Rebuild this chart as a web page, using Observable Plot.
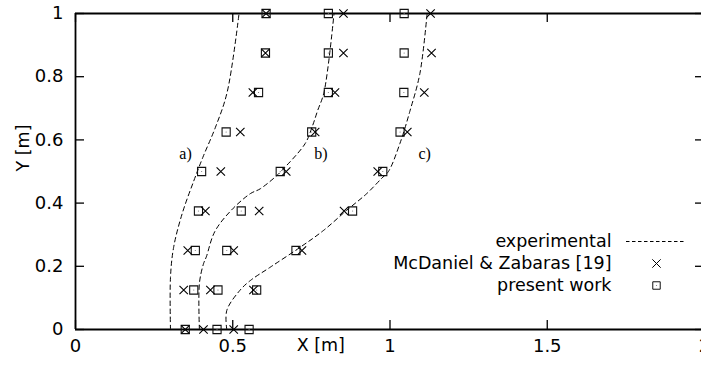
<!DOCTYPE html>
<html><head><meta charset="utf-8">
<script src="https://cdn.jsdelivr.net/npm/d3@7"></script>
<script src="https://cdn.jsdelivr.net/npm/@observablehq/plot@0.6"></script>
<style>
html,body{margin:0;padding:0;background:#fff;overflow:hidden;}
#chart{width:701px;height:367px;overflow:hidden;}
</style>
</head><body><div id="chart"></div>
<script>
// ---- data ----
const cases = ["a", "b", "c"];
const caseLabels = ["a)", "b)", "c)"];
const caseLabelX = [0.35, 0.78, 1.11];
const caseLabelY = [0.555, 0.557, 0.557];
const yLevels = [0, 0.125, 0.25, 0.375, 0.5, 0.625, 0.75, 0.875, 1];

// McDaniel & Zabaras [19] (x markers), x [m] at each yLevel
const mcdA = [0.349, 0.344, 0.357, 0.413, 0.462, 0.524, 0.564, 0.604, 0.606];
const mcdB = [0.407, 0.429, 0.503, 0.584, 0.670, 0.762, 0.825, 0.852, 0.852];
const mcdC = [0.503, 0.566, 0.720, 0.854, 0.961, 1.055, 1.109, 1.132, 1.129];

// present work (square markers)
const presA = [0.349, 0.376, 0.381, 0.391, 0.401, 0.479, 0.582, 0.604, 0.606];
const presB = [0.450, 0.453, 0.481, 0.527, 0.651, 0.751, 0.804, 0.804, 0.804];
const presC = [0.552, 0.576, 0.701, 0.881, 0.977, 1.032, 1.044, 1.045, 1.045];

// experimental (dashed curves)
const expAY = [0, 0.165, 0.26, 0.366, 0.47, 0.545, 0.64, 0.75, 1];
const expAX = [0.302, 0.302, 0.312, 0.339, 0.376, 0.405, 0.445, 0.482, 0.52];
const expBY = [0, 0.146, 0.208, 0.23, 0.31, 0.377, 0.43, 0.445, 0.487, 0.503, 0.588, 0.64, 0.693, 0.75, 1];
const expBX = [0.394, 0.394, 0.407, 0.416, 0.443, 0.495, 0.556, 0.587, 0.64, 0.656, 0.73, 0.752, 0.77, 0.79, 0.822];
const expCY = [0, 0.06, 0.123, 0.155, 0.197, 0.26, 0.313, 0.377, 0.43, 0.48, 0.5, 0.59, 0.69, 0.81, 1];
const expCX = [0.481, 0.481, 0.522, 0.556, 0.619, 0.714, 0.788, 0.862, 0.926, 0.975, 0.995, 1.032, 1.063, 1.095, 1.118];

const xTicks = [0, 0.5, 1, 1.5, 2];
const yTicks = [0, 0.2, 0.4, 0.6, 0.8, 1];
const xLabel = "X [m]";
const yLabel = "Y [m]";
const legendLabels = ["experimental", "McDaniel & Zabaras [19]", "present work"];

// ---- tables ----
const mcd = [mcdA, mcdB, mcdC];
const pres = [presA, presB, presC];
const expX = [expAX, expBX, expCX];
const expY = [expAY, expBY, expCY];
const mcdPts = [], presPts = [], expPts = [];
cases.forEach((c, k) => {
  yLevels.forEach((y, i) => {
    mcdPts.push({c, x: mcd[k][i], y});
    presPts.push({c, x: pres[k][i], y});
  });
  expY[k].forEach((y, i) => expPts.push({c, x: expX[k][i], y}));
});
const caseLabelRows = caseLabels.map((t, i) => ({t, x: caseLabelX[i], y: caseLabelY[i]}));

// ---- layout ----
const W = 701, H = 367;
const xS = d3.scaleLinear().domain([0, 2]).range([75, 704]);
const yS = d3.scaleLinear().domain([0, 1]).range([329, 13]);
const tickPx = 9;
const yTickLen = yS.invert(yS(0) - tickPx);
const xTickLen = xS.invert(xS(0) + tickPx);
const sans = "DejaVu Sans, sans-serif";
const serif = "Liberation Serif, Times New Roman, serif";

// legend positions (pixels -> data)
const legTextX = xS.invert(611);
const legRowY = [241, 263, 285].map(p => yS.invert(p));
const legSym = xS.invert(656);
const legDash = [xS.invert(626), xS.invert(686)];

const dash = "4.5,3.5";

const chart = Plot.plot({
  width: W, height: H,
  marginLeft: 75, marginRight: 0, marginTop: 13, marginBottom: 38,
  style: {fontFamily: sans, background: "#fff", color: "#000"},
  x: {domain: xS.domain(), range: xS.range()},
  y: {domain: yS.domain(), range: yS.range()},
  marks: [
    // axes labels
    Plot.axisX({ticks: xTicks, tickSize: 0, tickPadding: 10, fontSize: 18, tickFormat: d => String(d), label: null, fontFamily: sans, letterSpacing: 1}),
    Plot.axisY({ticks: yTicks, tickSize: 0, tickPadding: 12, fontSize: 18, tickFormat: d => String(d), label: null, fontFamily: sans, letterSpacing: 1.2}),
    Plot.text([xLabel], {x: 0.78, frameAnchor: "bottom", dy: 21, fontSize: 17.5, fontFamily: sans, letterSpacing: 0.7}),
    Plot.text([yLabel], {frameAnchor: "left", dx: -52, rotate: -90, fontSize: 17.5, fontFamily: sans, letterSpacing: 0.7}),
    // inward ticks
    Plot.ruleX(xTicks, {x: d => d, y1: 0, y2: yTickLen, strokeWidth: 1.3}),
    Plot.ruleX(xTicks, {x: d => d, y1: 1, y2: 1 - yTickLen, strokeWidth: 1.3}),
    Plot.ruleY(yTicks, {y: d => d, x1: 0, x2: xTickLen, strokeWidth: 1.3}),
    Plot.ruleY(yTicks, {y: d => d, x1: 2, x2: 2 - xTickLen, strokeWidth: 1.3}),
    // frame
    Plot.ruleX([0, 2], {x: d => d, y1: 0, y2: 1, strokeWidth: 1.8}),
    Plot.ruleY([0, 1], {y: d => d, x1: 0, x2: 2, strokeWidth: 1.8}),
    // experimental curves
    Plot.line(expPts, {x: "x", y: "y", z: "c", curve: "catmull-rom", stroke: "#000", strokeWidth: 1, strokeDasharray: dash}),
    // present work squares
    Plot.dot(presPts, {x: "x", y: "y", symbol: "square", r: 4.6, stroke: "#111", fill: "none", strokeWidth: 1.1}),
    Plot.dot(presPts, {x: "x", y: "y", r: 0.6, fill: "#777", stroke: "none"}),
    // McDaniel crosses
    Plot.dot(mcdPts, {x: "x", y: "y", symbol: "times", r: 3.9, stroke: "#000", strokeWidth: 1.1}),
    // case labels
    Plot.text(caseLabelRows, {x: "x", y: "y", text: "t", fontSize: 16, fontFamily: serif, letterSpacing: 0.8}),
    // legend
    Plot.text(legendLabels, {x: legTextX, y: (d, i) => legRowY[i], text: d => d, textAnchor: "end", fontSize: 17.5, fontFamily: sans, letterSpacing: 0.8}),
    Plot.ruleY([legRowY[0]], {y: d => d, x1: legDash[0], x2: legDash[1], stroke: "#000", strokeWidth: 1, strokeDasharray: "3.5,2.5"}),
    Plot.dot([legRowY[1]], {x: legSym, y: d => d, symbol: "times", r: 3.9, stroke: "#000", strokeWidth: 1}),
    Plot.dot([legRowY[2]], {x: legSym, y: d => d, symbol: "square", r: 4.2, stroke: "#111", fill: "none", strokeWidth: 1}),
    Plot.dot([legRowY[2]], {x: legSym, y: d => d, r: 0.6, fill: "#777", stroke: "none"})
  ]
});
document.getElementById("chart").appendChild(chart);
</script>
</body></html>
